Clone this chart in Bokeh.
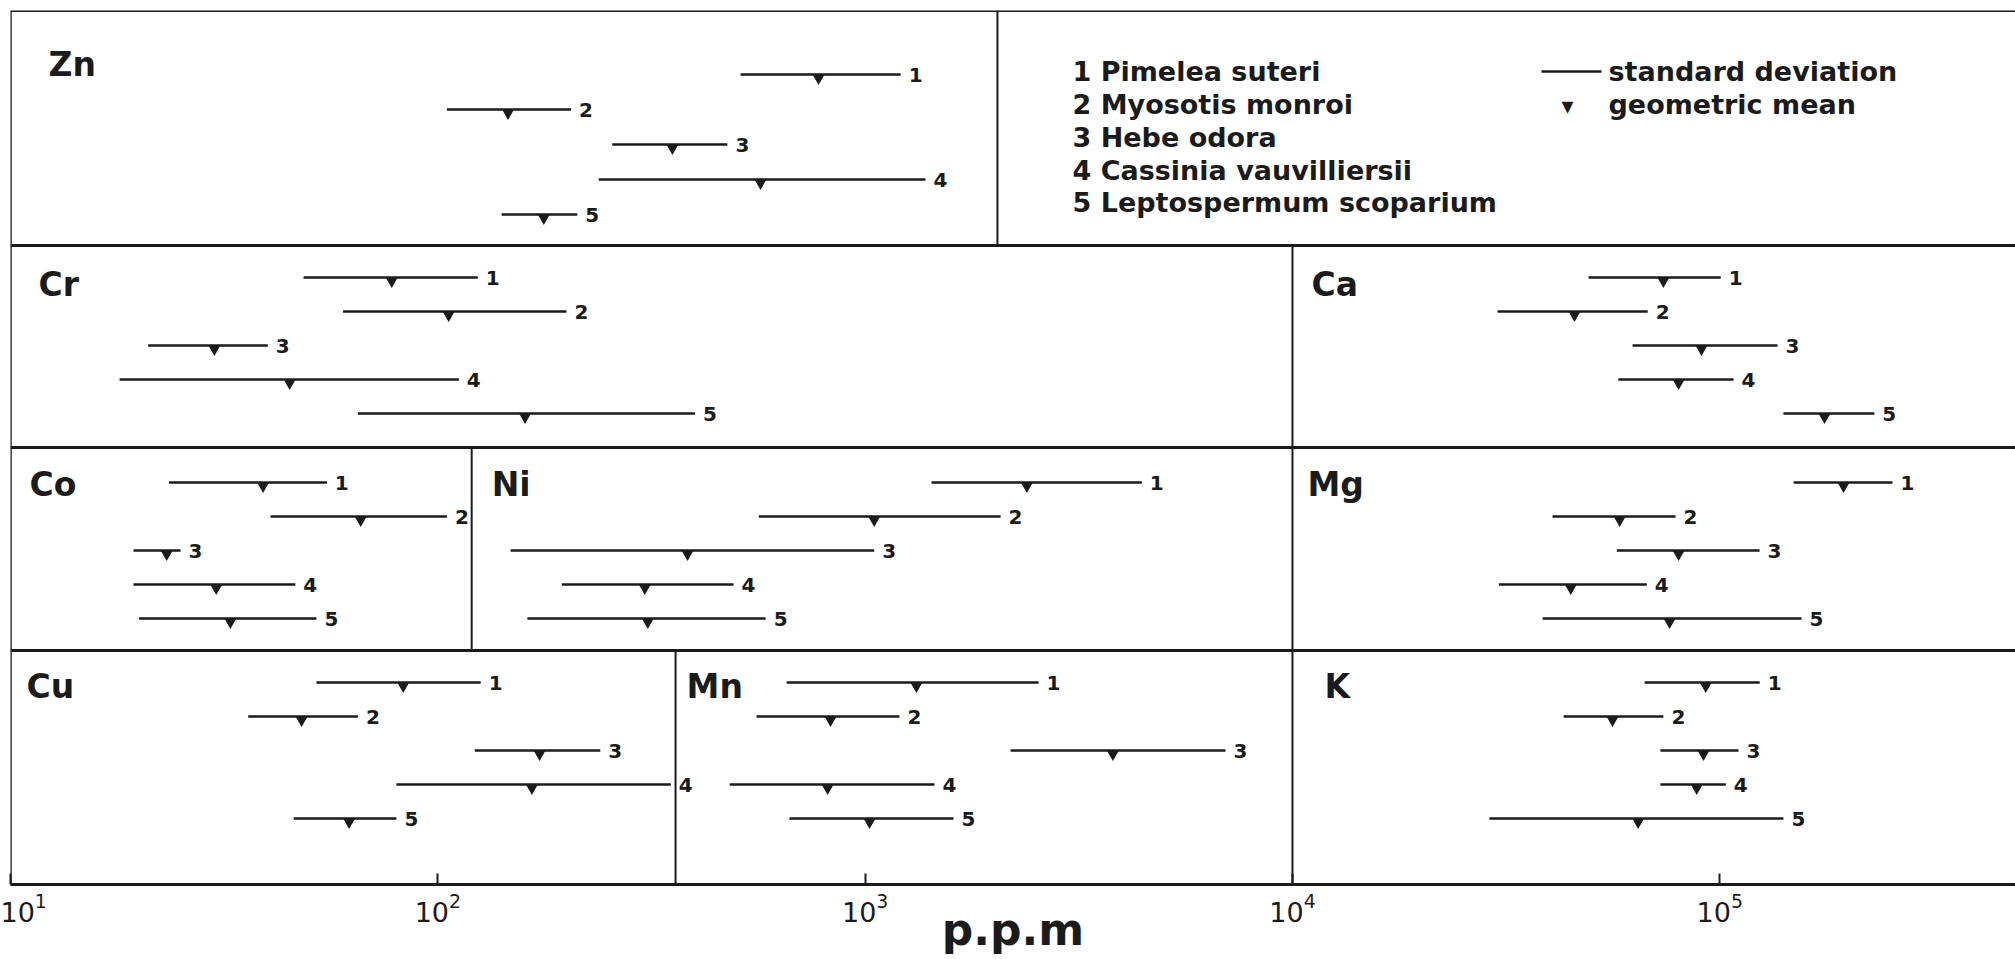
import numpy as np
from bokeh.plotting import figure
from bokeh.models import Range1d, Span, Label, FixedTicker, ColumnDataSource, BoxAnnotation
from bokeh.core.properties import value
from bokeh.embed import file_html
from bokeh.resources import INLINE

# ---------------- data (ppm) ----------------
SPECIES = ["Pimelea suteri", "Myosotis monroi", "Hebe odora",
           "Cassinia vauvilliersii", "Leptospermum scoparium"]
SPECIES_NO = ["1", "2", "3", "4", "5"]

ELEMENTS = ["Zn", "Cr", "Ca", "Co", "Ni", "Mg", "Cu", "Mn", "K"]

ZN_LOW = [511, 105, 256, 238, 141]
ZN_MEAN = [778, 146, 354, 569, 177]
ZN_HIGH = [1211, 205, 476, 1384, 212]

CR_LOW = [48.5, 60, 21, 18, 65]
CR_MEAN = [78, 106, 30, 45, 160]
CR_HIGH = [124, 200, 40, 112, 400]

CA_LOW = [49300, 30200, 62500, 57900, 140900]
CA_MEAN = [73800, 45700, 90600, 80100, 175800]
CA_HIGH = [100500, 67800, 136500, 107700, 230000]

CO_LOW = [23.5, 40.6, 19.4, 19.4, 20]
CO_MEAN = [39, 66, 23.2, 30.3, 32.7]
CO_HIGH = [55, 105, 25, 46.4, 52]

NI_LOW = [1430, 564, 148, 195, 162]
NI_MEAN = [2390, 1050, 384, 305, 310]
NI_HIGH = [4440, 2075, 1050, 492, 585]

MG_LOW = [148900, 40600, 57400, 30400, 38500]
MG_MEAN = [194800, 58300, 80100, 44800, 76300]
MG_HIGH = [253600, 78800, 123900, 67500, 155400]

CU_LOW = [52, 36, 122, 80, 46]
CU_MEAN = [83, 48, 173, 166, 62]
CU_HIGH = [126, 65, 240, 351, 80]

MN_LOW = [655, 557, 2190, 482, 665]
MN_MEAN = [1318, 830, 3800, 817, 1024]
MN_HIGH = [2546, 1203, 6970, 1453, 1610]

K_LOW = [66700, 43100, 72600, 72600, 28900]
K_MEAN = [92700, 56100, 91600, 88300, 64400]
K_HIGH = [124000, 73800, 110600, 103300, 140900]

TICKS = [10, 100, 1000, 10000, 100000]
X_TITLE = "p.p.m"

# ---------------- layout (panels) ----------------
ELEMENT_ROW = [0, 1, 1, 2, 2, 2, 3, 3, 3]
PANEL_LEFT = [10, 10, 1e4, 10, 120, 1e4, 10, 360, 1e4]          # ppm
ROW_DIVIDERS = [[2040], [1e4], [120, 1e4], [360, 1e4]]          # ppm

ROW_TOP = [10, 245, 447, 650]
ROW_BOTTOM = [245, 447, 650, 884]
FIRST = [64, 32, 35, 32]
STEP = [35, 34, 34, 34]
NAME_MID = [54, 39, 37, 36]
NAME_DX = [38, 28, 19, 19, 20, 15, 16, 11, 32]

LOWS = [ZN_LOW, CR_LOW, CA_LOW, CO_LOW, NI_LOW, MG_LOW, CU_LOW, MN_LOW, K_LOW]
MEANS = [ZN_MEAN, CR_MEAN, CA_MEAN, CO_MEAN, NI_MEAN, MG_MEAN, CU_MEAN, MN_MEAN, K_MEAN]
HIGHS = [ZN_HIGH, CR_HIGH, CA_HIGH, CO_HIGH, NI_HIGH, MG_HIGH, CU_HIGH, MN_HIGH, K_HIGH]

INK = "#1b1b1b"
FONT = "DejaVu Sans"

rows = dict(low=[], mean=[], high=[], y=[], ym=[], num=[])
for ei, el in enumerate(ELEMENTS):
    r = ELEMENT_ROW[ei]
    for si in range(len(SPECIES)):
        yy = ROW_TOP[r] + FIRST[r] + STEP[r] * si
        rows["low"].append(LOWS[ei][si])
        rows["mean"].append(MEANS[ei][si])
        rows["high"].append(HIGHS[ei][si])
        rows["y"].append(yy)
        rows["ym"].append(yy + 3.5)
        rows["num"].append(SPECIES_NO[si])
src = ColumnDataSource(rows)

names = ColumnDataSource(dict(
    x=PANEL_LEFT,
    y=[ROW_TOP[r] + NAME_MID[r] for r in ELEMENT_ROW],
    dx=NAME_DX,
    text=ELEMENTS,
))

W, H = 2015, 959
p = figure(width=W, height=H, x_axis_type="log",
           x_range=Range1d(10, 10 ** 5.692), y_range=Range1d(884, 10),
           output_backend="svg", toolbar_location=None,
           min_border_left=10, min_border_right=0, min_border_top=10,
           min_border_bottom=75, y_axis_location=None)
p.grid.visible = False
p.outline_line_color = None
p.background_fill_color = "white"
p.border_fill_color = "white"

ax = p.xaxis[0]
ax.ticker = FixedTicker(ticks=TICKS)
ax.major_tick_in = 11
ax.major_tick_out = 0
ax.minor_tick_in = 0
ax.minor_tick_out = 0
ax.axis_line_width = 3
ax.axis_line_color = INK
ax.major_tick_line_width = 2
ax.major_tick_line_color = INK
ax.major_label_text_font = FONT
ax.major_label_text_font_size = "27px"
ax.major_label_text_color = INK
ax.major_label_standoff = 8
ax.axis_label = X_TITLE
ax.axis_label_text_font = FONT
ax.axis_label_text_font_style = "bold"
ax.axis_label_text_font_size = "44px"
ax.axis_label_text_color = INK
ax.axis_label_standoff = -21

# frame lines
for yt in ROW_TOP:
    p.add_layout(Span(location=yt, dimension="width", line_color=INK, line_width=3))
p.add_layout(Span(location=10, dimension="height", line_color=INK, line_width=2.5))

# panel dividers
dx0, dy0, dy1 = [], [], []
for r, divs in enumerate(ROW_DIVIDERS):
    for d in divs:
        dx0.append(d); dy0.append(ROW_TOP[r]); dy1.append(ROW_BOTTOM[r])
p.segment(x0=dx0, x1=dx0, y0=dy0, y1=dy1, line_color=INK, line_width=2)

# standard deviation bars, geometric means, species numbers
p.segment(x0="low", x1="high", y0="y", y1="y", source=src, line_color=INK, line_width=2.5)
p.scatter(x="mean", y="ym", source=src, marker="inverted_triangle", size=12,
          fill_color=INK, line_color=None)
p.text(x="high", y="y", text="num", source=src, x_offset=8,
       text_baseline="middle", text_align="left", text_font=value(FONT),
       text_font_style="bold", text_font_size="20px", text_color=INK)

# element names
p.text(x="x", y="y", text="text", x_offset="dx", source=names,
       text_baseline="middle", text_align="left", text_font=value(FONT),
       text_font_style="bold", text_font_size="33px", text_color=INK)

# legend
LEG_Y = [71, 104, 137, 170, 202]
for i, sp in enumerate(SPECIES):
    p.add_layout(Label(x=1062, x_units="screen", y=LEG_Y[i], y_units="data",
                       text=f"{SPECIES_NO[i]} {sp}", text_baseline="middle",
                       text_font=FONT, text_font_style="bold",
                       text_font_size="27px", text_color=INK))
p.add_layout(BoxAnnotation(left=1531, right=1591, left_units="screen", right_units="screen",
                           top=LEG_Y[0] - 1.3, bottom=LEG_Y[0] + 1.3,
                           fill_color=INK, fill_alpha=1, line_color=None))
p.add_layout(Label(x=1557, x_units="screen", y=LEG_Y[1] + 1, y_units="data", text="▾",
                   text_align="center", text_baseline="middle", text_font=FONT,
                   text_font_size="24px", text_color=INK))
p.add_layout(Label(x=1598, x_units="screen", y=LEG_Y[0], y_units="data",
                   text="standard deviation", text_baseline="middle",
                   text_font=FONT, text_font_style="bold",
                   text_font_size="27px", text_color=INK))
p.add_layout(Label(x=1598, x_units="screen", y=LEG_Y[1], y_units="data",
                   text="geometric mean", text_baseline="middle",
                   text_font=FONT, text_font_style="bold",
                   text_font_size="27px", text_color=INK))

open("out.html", "w").write(file_html(p, INLINE))
